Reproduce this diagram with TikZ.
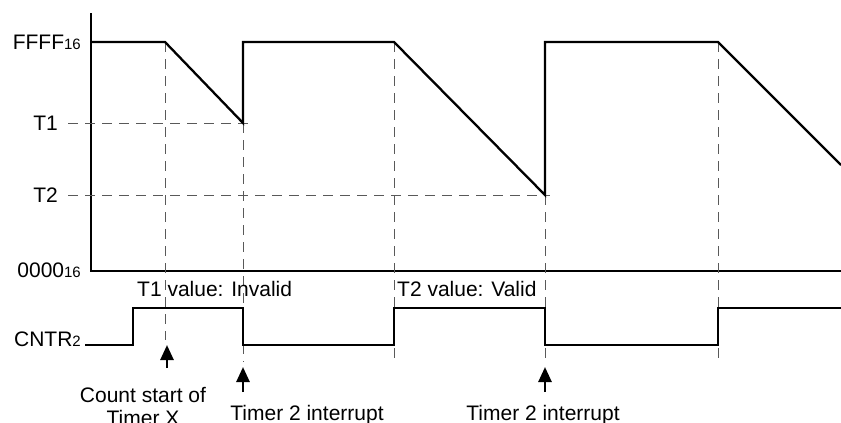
\documentclass[tikz,border=0pt]{standalone}
\usepackage{fontspec}
\setmainfont{Liberation Sans}
\usetikzlibrary{arrows.meta,positioning}
\newcommand{\lowidx}[1]{{\fontsize{15}{15}\selectfont #1}}

\begin{document}
\begin{tikzpicture}[
    x=1pt, y=-1pt,
    wave/.style={line width=2.3pt, line join=miter},
    axis/.style={line width=2.7pt},
    guide/.style={line width=1pt, black!65, dash pattern=on 10pt off 7pt},
    lbl/.style={font=\fontsize{21}{23}\selectfont, inner sep=0pt},
    uparr/.style={line width=2.6pt, -{Triangle[width=13pt,length=15pt]}}
]
\useasboundingbox (0,0) rectangle (841,423);

% axes
\draw[axis] (91,13) -- (91,271) -- (841,271);

% level labels
\node[lbl, anchor=east] (ffff) at (81,42) {FFFF\lowidx{16}};
\node[lbl, anchor=east] (lvT1) at (58,123) {T1};
\node[lbl, anchor=east] (lvT2) at (58,195) {T2};
\node[lbl, anchor=east] (zero) at (81,270) {0000\lowidx{16}};
\node[lbl, anchor=east] (cntr) at (81,339) {CNTR\lowidx{2}};

% guide lines
\draw[guide] (68,123) -- (248,123);
\draw[guide] (68,195) -- (550,195);
\draw[guide] (165,42) -- (165,340);
\draw[guide] (243,123) -- (243,362);
\draw[guide] (394,42) -- (394,365);
\draw[guide] (545,195) -- (545,362);
\draw[guide] (718,42) -- (718,365);

% counter value
\draw[wave] (91,42) -- (165,42) -- (243,123) -- (243,42) -- (394,42)
    -- (545,195) -- (545,42) -- (718,42) -- (841,165);

% CNTR2 signal
\draw[wave] (85,345) -- (133,345) -- (133,308) -- (243,308) -- (243,345)
    -- (394,345) -- (394,308) -- (545,308) -- (545,345) -- (718,345)
    -- (718,308) -- (841,308);

% value notes
\node[lbl, anchor=west] (inv) at (137,289) {T1 value: Invalid};
\node[lbl, anchor=west] (val) at (397,289) {T2 value: Valid};

% events
\node[lbl, anchor=north, align=center] (cstart) at (143,387) {Count start of\\Timer X};
\node[lbl, anchor=base] (irq1) at (307,420) {Timer 2 interrupt};
\node[lbl, anchor=base] (irq2) at (543,420) {Timer 2 interrupt};

\coordinate (a1) at (167,368);
\coordinate (b1) at (167,345);
\coordinate (a2) at (243,392);
\coordinate (b2) at (243,367);
\coordinate (a3) at (545,392);
\coordinate (b3) at (545,367);
\draw[uparr] (a1) -- (b1);
\draw[uparr] (a2) -- (b2);
\draw[uparr] (a3) -- (b3);
\end{tikzpicture}
\end{document}
